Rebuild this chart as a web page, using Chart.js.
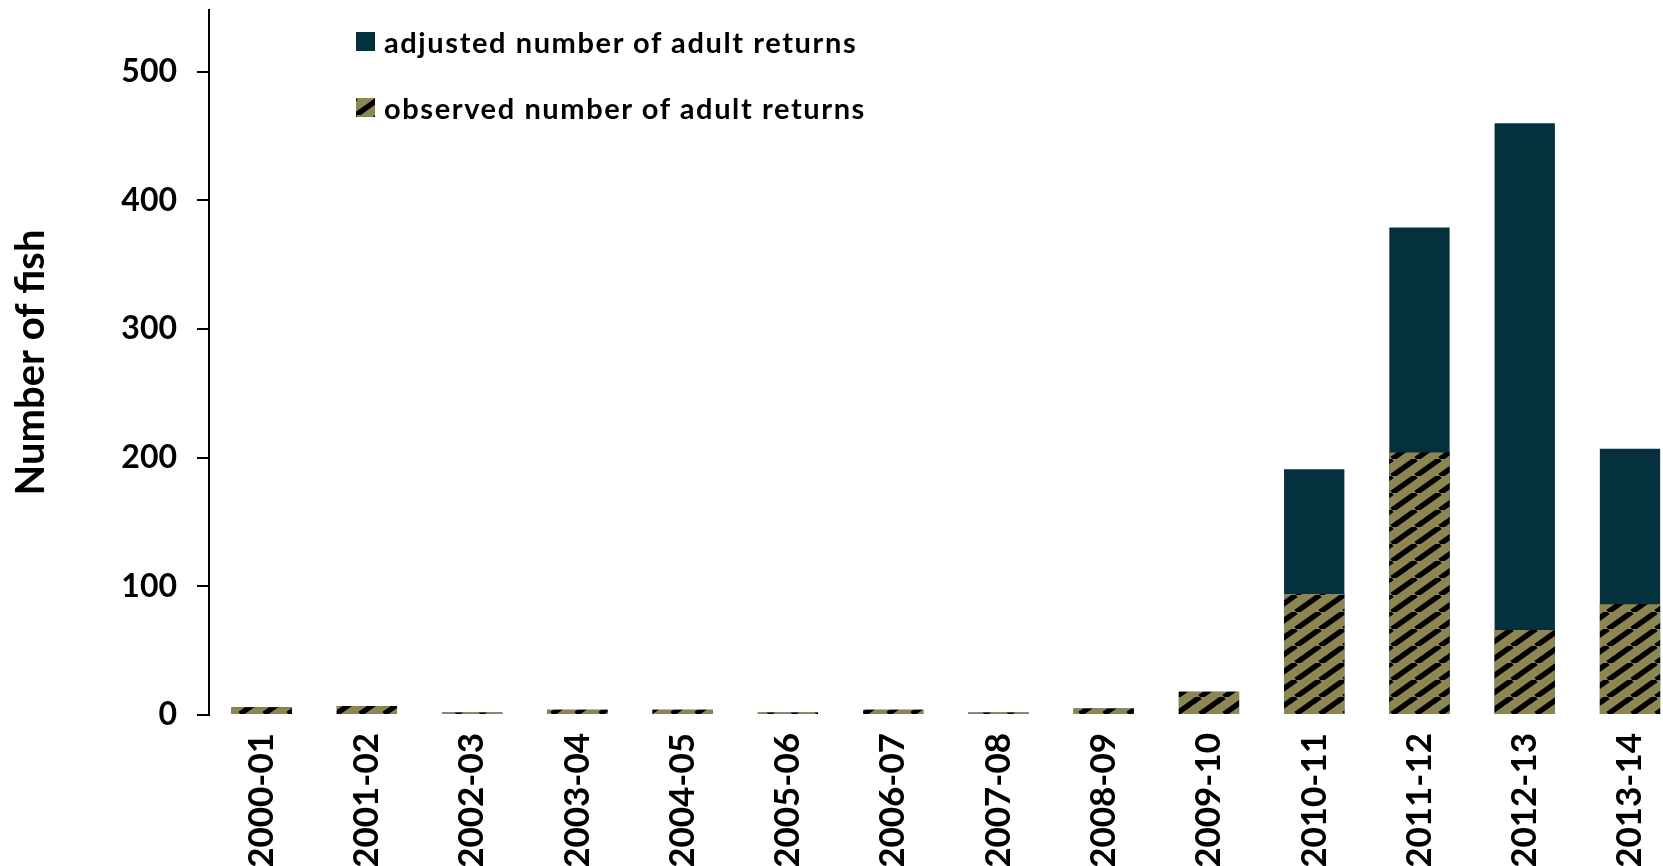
<!DOCTYPE html>
<html>
<head>
<meta charset="utf-8">
<title>Adult returns</title>
<script src="https://cdn.jsdelivr.net/npm/chart.js@4.4.1/dist/chart.umd.min.js"></script>
<style>
  html, body { margin: 0; padding: 0; background: #fff; overflow: hidden; }
  #wrap { position: relative; width: 1690px; height: 866px; }
  #legend { position: absolute; left: 356px; top: 21px; font: bold 29px Lato, sans-serif; letter-spacing: 1.6px; color: #000; }
  #legend .item { display: flex; align-items: center; height: 40px; margin-bottom: 26px; }
  #legend canvas { width: 19px; height: 19px; margin-right: 9px; }
</style>
</head>
<body>
<div id="wrap">
  <canvas id="chart"></canvas>
  <div id="legend"></div>
</div>
<script>
// seasons on the x axis
const categories = ['2000-01', '2001-02', '2002-03', '2003-04', '2004-05', '2005-06', '2006-07',
  '2007-08', '2008-09', '2009-10', '2010-11', '2011-12', '2012-13', '2013-14'];
// adjusted = full bar height, observed = hatched part drawn over it
const adjustedReturns = [6, 7, 2, 4, 4, 2, 4, 2, 5, 18, 191, 379, 460, 207];
const observedReturns = [6, 7, 2, 4, 4, 2, 4, 2, 5, 18, 94, 204, 66, 86];
const yTicks = [0, 100, 200, 300, 400, 500];

const DARK = '#05303e';
const OLIVE = '#8e8652';

function hatch() {
  const w = 24, h = 17;
  const c = document.createElement('canvas');
  c.width = w; c.height = h;
  const g = c.getContext('2d');
  g.fillStyle = OLIVE;
  g.fillRect(0, 0, w, h);
  g.strokeStyle = '#000';
  g.lineWidth = 5.5;
  g.beginPath();
  for (const o of [-w, 0, w]) {
    g.moveTo(o, h);
    g.lineTo(o + w, 0);
  }
  g.stroke();
  return g.createPattern(c, 'repeat');
}

function buildLegend(chart) {
  const box = document.getElementById('legend');
  chart.data.datasets.forEach(ds => {
    const row = document.createElement('div');
    row.className = 'item';
    const sw = document.createElement('canvas');
    sw.width = 19; sw.height = 19;
    const g = sw.getContext('2d');
    g.fillStyle = ds.backgroundColor;
    g.fillRect(0, 0, 19, 19);
    row.appendChild(sw);
    row.appendChild(document.createTextNode(ds.label));
    box.appendChild(row);
  });
}

document.fonts.load('bold 28px Lato').then(() => {
  const ctx = document.getElementById('chart').getContext('2d');
  const chart = new Chart(ctx, {
    type: 'bar',
    data: {
      labels: categories,
      datasets: [
        { label: 'adjusted number of adult returns', data: adjustedReturns, backgroundColor: DARK, order: 1 },
        { label: 'observed number of adult returns', data: observedReturns, backgroundColor: hatch(), order: 0 }
      ]
    },
    options: {
      responsive: true,
      maintainAspectRatio: false,
      animation: false,
      barPercentage: 0.573,
      categoryPercentage: 1,
      layout: { padding: { top: 10, right: 0, bottom: 0, left: 0 } },
      plugins: { legend: { display: false }, tooltip: { enabled: false } },
      scales: {
        x: {
          stacked: true,
          afterFit: s => { s.height = 151; },
          grid: { display: false, drawTicks: false },
          border: { display: false },
          ticks: {
            color: '#000',
            font: { family: 'Lato', size: 35, weight: 'bold' },
            minRotation: 90, maxRotation: 90,
            padding: 18,
            autoSkip: false
          }
        },
        y: {
          stacked: false,
          min: 0,
          max: 548,
          afterBuildTicks: s => { s.ticks = yTicks.map(v => ({ value: v })); },
          afterFit: s => { s.width = 209; s.paddingTop = 0; s.paddingBottom = 0; },
          grid: { drawOnChartArea: false, tickLength: 12, color: '#000', lineWidth: 2 },
          border: { display: true, color: '#000', width: 2 },
          ticks: {
            color: '#000',
            font: { family: 'Lato', size: 32, weight: 'bold' },
            padding: 20
          },
          title: {
            display: true,
            text: 'Number of fish',
            color: '#000',
            font: { family: 'Lato', size: 40, weight: 'bold' },
            padding: { top: 7, bottom: 4 }
          }
        }
      }
    }
  });
  buildLegend(chart);
});
</script>
</body>
</html>
